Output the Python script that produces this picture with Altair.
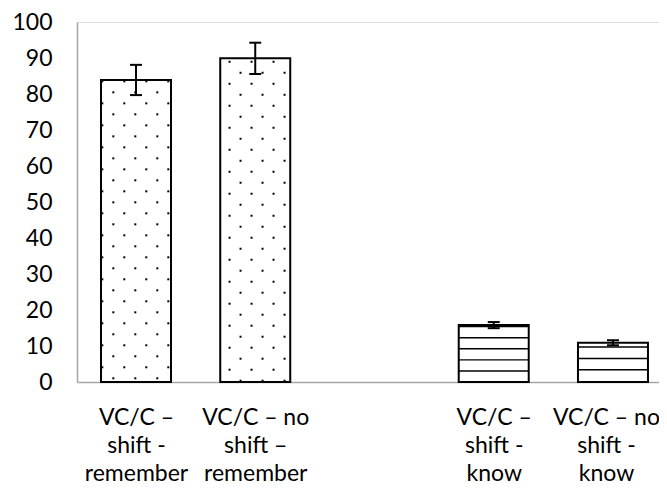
import json
import altair as alt
import pandas as pd

# ---- data ----
label_lines = [
    ["VC/C –", "shift -", "remember"],
    ["VC/C – no", "shift –", "remember"],
    [""],
    ["VC/C –", "shift -", "know"],
    ["VC/C – no", "shift -", "know"],
]
bar_pos = [0, 1, 3, 4]            # category slots (slot 2 is the empty gap)
values = [83.9, 89.9, 15.8, 10.9]
errors = [4.2, 4.35, 0.85, 0.7]
patterns = ["dots", "dots", "lines", "lines"]

FONT = "Lato"
FS = 23
BAND = 0.587      # bar width as fraction of a category slot
CAP = 0.1         # error-bar cap width in slot units

bars = pd.DataFrame({
    "pos": bar_pos,
    "x0": [p - BAND / 2 for p in bar_pos],
    "x1": [p + BAND / 2 for p in bar_pos],
    "c0": [p - CAP / 2 for p in bar_pos],
    "c1": [p + CAP / 2 for p in bar_pos],
    "base": [0.0 for _ in bar_pos],
    "value": values,
    "lo": [v - e for v, e in zip(values, errors)],
    "hi": [v + e for v, e in zip(values, errors)],
})

# ---- texture (pattern fill) built from the bar values ----
ROW = 3.055
dot_phase = {0: (1.03, [12.3, 34.3, 56.3], [1.3, 23.3, 45.3, 67.3]),
             1: (0.36, [20.3, 42.3, 64.3], [9.3, 31.3, 53.3])}
dot_rows = []
for i, (p, v, pat) in enumerate(zip(bar_pos, values, patterns)):
    if pat != "dots":
        continue
    start, even_cols, odd_cols = dot_phase[i]
    k = 0
    while start + k * ROW < v - 0.3:
        cols = even_cols if k % 2 == 0 else odd_cols
        for col in cols:
            dot_rows.append({"x": p - BAND / 2 + BAND * col / 70.0, "val": start + k * ROW})
        k += 1
dots = pd.DataFrame(dot_rows)

stripe_phase = {2: (3.06, 3.08), 3: (3.4, 3.15)}
stripe_rows = []
for i, (p, v, pat) in enumerate(zip(bar_pos, values, patterns)):
    if pat != "lines":
        continue
    start, step = stripe_phase[i]
    k = 0
    while start + k * step < v:
        y = start + k * step
        stripe_rows.append({"x0": p - BAND / 2, "x1": p + BAND / 2,
                            "lo": y - 0.2, "hi": min(y + 0.2, v)})
        k += 1
stripes = pd.DataFrame(stripe_rows)

x_scale = alt.Scale(domain=[-0.4948, 4.386], nice=False, zero=False, padding=0)
y_scale = alt.Scale(domain=[0, 100], nice=False, padding=0)

x_axis = alt.Axis(
    title=None, values=bar_pos, labelAngle=0, ticks=False, tickSize=0, grid=False,
    labelExpr=json.dumps(label_lines, ensure_ascii=False) + "[datum.value]",
    labelFont=FONT, labelFontSize=FS, labelColor="black",
    labelLineHeight=28, labelPadding=24, labelBaseline="top", labelAlign="center",
    labelOffset={"condition": {"test": "datum.value == 4", "value": -7}, "value": 0},
    labelOverlap=False, labelLimit=0, labelFlush=False,
    domainColor="#a6a6a6", domainWidth=1.5,
)
y_axis = alt.Axis(
    title=None, values=list(range(0, 101, 10)), grid=False, ticks=False, tickSize=0,
    labelFont=FONT, labelFontSize=FS, labelColor="black", labelPadding=25,
    labelOverlap=False, labelFlush=False,
    domainColor="#a6a6a6", domainWidth=1.5,
)


def X(field):
    return alt.X(field, scale=x_scale, axis=x_axis)


def Y(field):
    return alt.Y(field, scale=y_scale, axis=y_axis)


base_fill = alt.Chart(bars).mark_bar(fill="white", orient="vertical").encode(
    x=X("x0:Q"), x2="x1:Q", y=Y("value:Q"), y2="base:Q",
)

dot_layer = alt.Chart(dots).mark_square(size=4, color="black", opacity=1).encode(
    x=X("x:Q"), y=Y("val:Q"),
)

stripe_layer = alt.Chart(stripes).mark_bar(fill="black", orient="vertical").encode(
    x=X("x0:Q"), x2="x1:Q", y=Y("lo:Q"), y2="hi:Q",
)

outline = alt.Chart(bars).mark_bar(fillOpacity=0, stroke="black", strokeWidth=2,
                                   orient="vertical").encode(
    x=X("x0:Q"), x2="x1:Q", y=Y("value:Q"), y2="base:Q",
)

err_rule = alt.Chart(bars).mark_rule(color="black", strokeWidth=2).encode(
    x=X("pos:Q"), y=Y("lo:Q"), y2="hi:Q",
)
cap_hi = alt.Chart(bars).mark_rule(color="black", strokeWidth=2).encode(
    x=X("c0:Q"), x2="c1:Q", y=Y("hi:Q"),
)
cap_lo = alt.Chart(bars).mark_rule(color="black", strokeWidth=2).encode(
    x=X("c0:Q"), x2="c1:Q", y=Y("lo:Q"),
)

chart = alt.layer(
    base_fill, dot_layer, stripe_layer, outline, err_rule, cap_hi, cap_lo
).properties(
    width=582,
    height=360,
    autosize=alt.AutoSizeParams(type="none"),
    padding={"left": 69, "top": 14, "right": 0, "bottom": 105},
).configure_view(stroke=None).configure(background="white")

chart.save("out.html", embed_options={"renderer": "svg", "actions": False})
